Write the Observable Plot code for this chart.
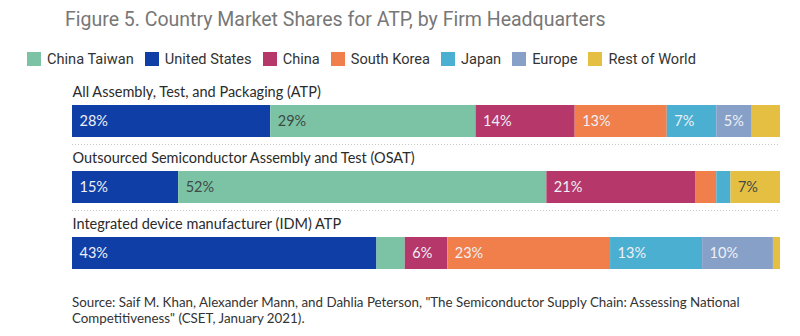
<!DOCTYPE html>
<html><head><meta charset="utf-8">
<script src="https://cdn.jsdelivr.net/npm/d3@7"></script>
<script src="https://cdn.jsdelivr.net/npm/@observablehq/plot@0.6"></script>
<style>
body{margin:0;background:#fff;width:800px;height:336px;overflow:hidden;font-family:Lato,sans-serif;position:relative;}
#title{position:absolute;left:65px;top:8px;font-family:Roboto,sans-serif;font-size:19.5px;line-height:24px;color:#777;white-space:nowrap;}
#legend{position:absolute;left:27px;top:50px;}
#chart{position:absolute;left:0;top:78px;}
#caption{position:absolute;left:72px;top:294px;width:700px;font-size:13.35px;line-height:16px;color:#333;}
.lg-swatches{font-family:Roboto,sans-serif !important;font-size:14.6px !important;color:#333 !important;min-height:18px !important;margin:0 !important;}
.lg-swatch{margin-right:11px !important;}
.lg-swatch > svg{margin-right:6px !important;}
</style>
</head><body>
<div id="title">Figure 5. Country Market Shares for ATP, by Firm Headquarters</div>
<div id="legend"></div>
<div id="chart"></div>
<div id="caption">Source: Saif M. Khan, Alexander Mann, and Dahlia Peterson, "The Semiconductor Supply Chain: Assessing National Competitiveness" (CSET, January 2021).</div>
<script>
const rows = ["All Assembly, Test, and Packaging (ATP)", "Outsourced Semiconductor Assembly and Test (OSAT)", "Integrated device manufacturer (IDM) ATP"];
const countries = ["United States", "China Taiwan", "China", "South Korea", "Japan", "Europe", "Rest of World"];
const legendOrder = ["China Taiwan", "United States", "China", "South Korea", "Japan", "Europe", "Rest of World"];
const legendColors = ["#7cc3a6", "#0e3ea6", "#b6386b", "#f07f4b", "#4aafd0", "#86a0c7", "#e5bf41"];
const atp = [28, 29, 14, 13, 7, 5, 4];
const osat = [15, 52, 21, 3, 2, 0, 7];
const idm = [43, 4, 6, 23, 13, 10, 1];
const darkLabelCountries = ["China Taiwan", "Rest of World"];

const series = [atp, osat, idm];
const data = [];
rows.forEach((r, i) => countries.forEach((c, j) => data.push({row: r, country: c, value: series[i][j]})));

const lbl = (dark) => d => (d.value >= 5 && darkLabelCountries.includes(d.country) === dark) ? `${d.value}%` : null;

const chart = Plot.plot({
  width: 800, height: 202,
  marginTop: 26, marginBottom: 10, marginLeft: 72, marginRight: 20,
  x: {domain: [0, 100], axis: null},
  y: {domain: rows, axis: null, paddingInner: 0.522, paddingOuter: 0},
  color: {domain: legendOrder, range: legendColors},
  style: {fontFamily: "Lato, sans-serif", fontSize: "14.5px", background: "#fff"},
  marks: [
    Plot.ruleY(rows.slice(0, 2), {y: d => d, dy: 23, stroke: "#c8c8c8", strokeDasharray: "1,2"}),
    Plot.barX(data, {x: "value", y: "row", fill: "country"}),
    Plot.text(data, Plot.stackX1({x: "value", y: "row", text: lbl(false), textAnchor: "start", dx: 7, fill: "#eef1f7"})),
    Plot.text(data, Plot.stackX1({x: "value", y: "row", text: lbl(true), textAnchor: "start", dx: 7, fill: "#3d4a45"})),
    Plot.text(rows, {y: d => d, text: d => d, frameAnchor: "left", textAnchor: "start", dy: -29, fill: "#2b2b2b"})
  ]
});
document.getElementById("chart").appendChild(chart);

const legend = Plot.legend({
  color: {domain: legendOrder, range: legendColors},
  swatchSize: 14,
  className: "lg"
});
document.getElementById("legend").appendChild(legend);
</script>
</body></html>
